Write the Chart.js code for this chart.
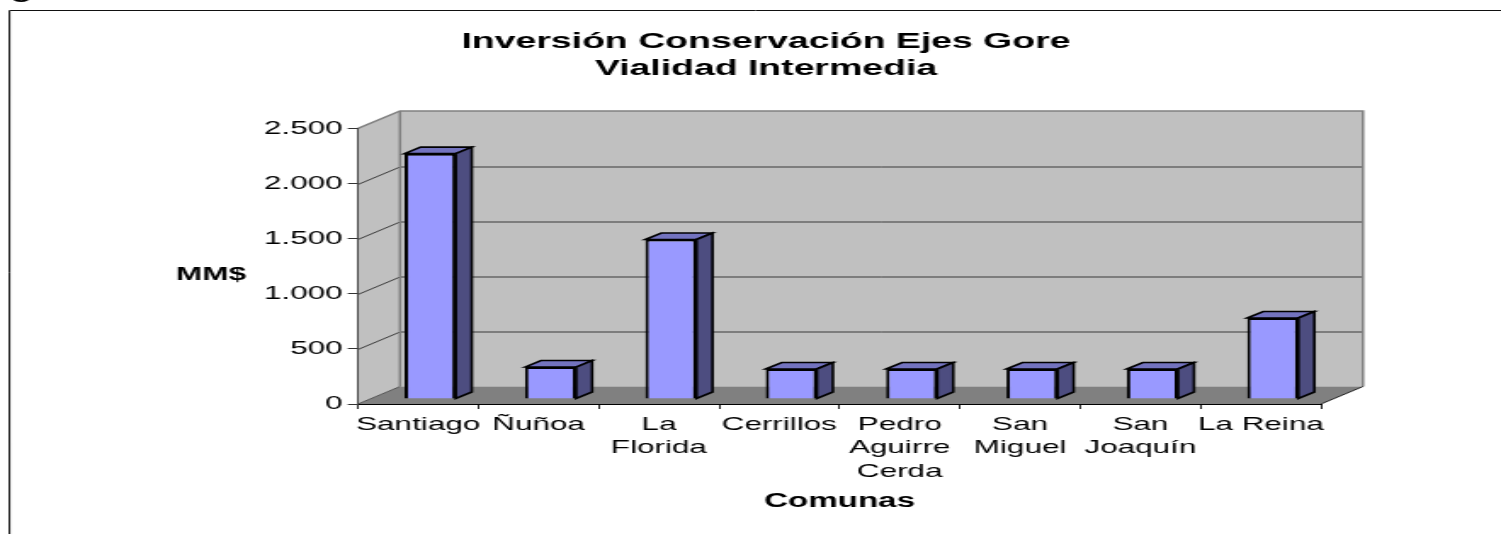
<!DOCTYPE html>
<html><head><meta charset="utf-8">
<style>html,body{margin:0;padding:0;background:#fff;overflow:hidden}canvas{display:block;width:1501px !important;height:534px !important}</style>
<script src="https://cdn.jsdelivr.net/npm/chart.js@4"></script>
</head><body><canvas id="c" width="883" height="534"></canvas>
<script>
const categories = ["Santiago","Ñuñoa",["La","Florida"],"Cerrillos",["Pedro","Aguirre","Cerda"],["San","Miguel"],["San","Joaquín"],"La Reina"];
const values = [2226,290,1447,272,272,272,272,735];
const yTicks = [0,500,1000,1500,2000,2500];
const titleLines = ["Inversión Conservación Ejes Gore","Vialidad Intermedia"];
const xTitle = "Comunas";
const yTitle = "MM$";

const W = 883, H = 534, SX = 1501/883;
const DX = 42/SX, DY = 17.5;         // wall depth
const BX = 12/SX, BY = -5;           // bar offset into depth
const SIDE_X = 16/SX, SIDE_Y = 6.5;  // bar depth
const FF = '"Liberation Sans", Arial, sans-serif';

const poly = (ctx, pts, fill, stroke, lw) => {
  ctx.beginPath();
  pts.forEach((p,i)=> i ? ctx.lineTo(p[0],p[1]) : ctx.moveTo(p[0],p[1]));
  ctx.closePath();
  if (fill) { ctx.fillStyle = fill; ctx.fill(); }
  if (stroke) { ctx.strokeStyle = stroke; ctx.lineWidth = lw || 1; ctx.stroke(); }
};

const box3d = {
  id:'box3d',
  beforeDraw(chart){
    const {ctx, chartArea:a, scales:{y}} = chart;
    ctx.save();
    ctx.fillStyle = '#fff'; ctx.fillRect(0,0,W,H);
    // page fragments
    ctx.fillStyle = '#000'; ctx.font = 'bold 20px '+FF; ctx.textBaseline='alphabetic'; ctx.textAlign='left';
    ctx.fillText('g', 6.5, -2);
    ctx.strokeStyle = '#111'; ctx.lineWidth = 1;
    ctx.beginPath(); ctx.moveTo(9.5/SX, H); ctx.lineTo(9.5/SX, 10.5); ctx.lineTo(W, 10.5); ctx.stroke();
    const L=a.left,R=a.right,T=a.top,B=a.bottom;
    // walls and floor
    poly(ctx,[[L,T],[L+DX,T-DY],[L+DX,B-DY],[L,B]],'#C0C0C0');
    poly(ctx,[[L+DX,T-DY],[R+DX,T-DY],[R+DX,B-DY],[L+DX,B-DY]],'#C0C0C0');
    poly(ctx,[[L,B],[L+DX,B-DY],[R+DX,B-DY],[R,B]],'#808080');
    // gridlines
    ctx.strokeStyle='#3a3a3a'; ctx.lineWidth=1;
    y.ticks.forEach(t=>{
      if (t.value===0 || t.value===y.max) return;
      const p = Math.round(y.getPixelForValue(t.value))+.5;
      ctx.beginPath(); ctx.moveTo(L,p); ctx.lineTo(L+DX,p-DY); ctx.lineTo(R+DX,p-DY); ctx.stroke();
    });
    // wall edges
    ctx.strokeStyle='#808080'; ctx.lineWidth=1.5;
    ctx.beginPath(); ctx.moveTo(L,T); ctx.lineTo(L+DX,T-DY); ctx.lineTo(R+DX,T-DY); ctx.lineTo(R+DX,B-DY); ctx.stroke();
    ctx.beginPath(); ctx.moveTo(L+DX,T-DY); ctx.lineTo(L+DX,B-DY); ctx.stroke();
    ctx.strokeStyle='#222'; ctx.lineWidth=1;
    ctx.beginPath(); ctx.moveTo(R,B); ctx.lineTo(R+DX,B-DY); ctx.stroke();
    ctx.strokeStyle='#555';
    ctx.beginPath(); ctx.moveTo(L,B); ctx.lineTo(L+DX,B-DY); ctx.stroke();
    ctx.restore();
  },
  beforeDatasetsDraw(chart){
    chart.ctx.save();
    chart.ctx.translate(BX,BY);
  },
  afterDatasetsDraw(chart){
    const ctx = chart.ctx;
    chart.getDatasetMeta(0).data.forEach(el=>{
      const {x,y,base,width} = el.getProps(['x','y','base','width'],true);
      const l=x-width/2, r=x+width/2;
      poly(ctx,[[l,y],[l+SIDE_X,y-SIDE_Y],[r+SIDE_X,y-SIDE_Y],[r,y]],'#7373BF','#000',1.6);
      poly(ctx,[[r,y],[r+SIDE_X,y-SIDE_Y],[r+SIDE_X,base-SIDE_Y],[r,base]],'#4D4D80','#000',1.6);
    });
    ctx.restore();
  },
  afterDraw(chart){
    const ctx = chart.ctx;
    ctx.save();
    ctx.font = 'bold 18.5px '+FF; ctx.fillStyle='#000';
    ctx.textAlign='center'; ctx.textBaseline='middle';
    ctx.fillText(yTitle, 211/SX, 275);
    ctx.restore();
  }
};

new Chart(document.getElementById('c'),{
  type:'bar',
  plugins:[box3d],
  data:{labels:categories,datasets:[{data:values,backgroundColor:'#9999FF',borderColor:'#000',borderWidth:2,clip:false,
    barPercentage:.425,categoryPercentage:1}]},
  options:{
    responsive:false,animation:false,devicePixelRatio:1,
    events:[],
    layout:{padding:{left:18.2,right:0,top:0,bottom:0}},
    plugins:{
      legend:{display:false},tooltip:{enabled:false},
      title:{display:true,text:titleLines,color:'#000',
        font:{family:FF,size:22,weight:'bold',lineHeight:1.24},
        padding:{top:28,bottom:45.9}}
    },
    scales:{
      x:{
        grid:{display:true,drawOnChartArea:false,drawTicks:true,tickLength:5,color:'#222',offset:true},
        border:{display:true,color:'#000',width:1},
        ticks:{color:'#000',font:{family:FF,size:18.5,lineHeight:1.27},padding:4,maxRotation:0,minRotation:0,autoSkip:false},
        title:{display:true,text:xTitle,color:'#000',font:{family:FF,size:19.5,weight:'bold'},padding:{top:0,bottom:21}},
        afterFit(s){s.height=130;}
      },
      y:{
        min:0,max:2500,
        afterBuildTicks(s){s.ticks=yTicks.map(v=>({value:v}));},
        grid:{display:true,drawOnChartArea:false,tickLength:6,color:'#333'},
        border:{display:true,color:'#444',width:1},
        ticks:{color:'#000',font:{family:FF,size:18.5},padding:3,
          callback:v=>String(v).replace(/\B(?=(\d{3})+$)/g,'.')},
        afterFit(s){s.width=192.4;}
      },
      y2:{
        position:'right',display:true,
        grid:{display:false},border:{display:false},ticks:{display:false},
        afterFit(s){s.width=105.9;}
      }
    }
  }
});
</script></body></html>
